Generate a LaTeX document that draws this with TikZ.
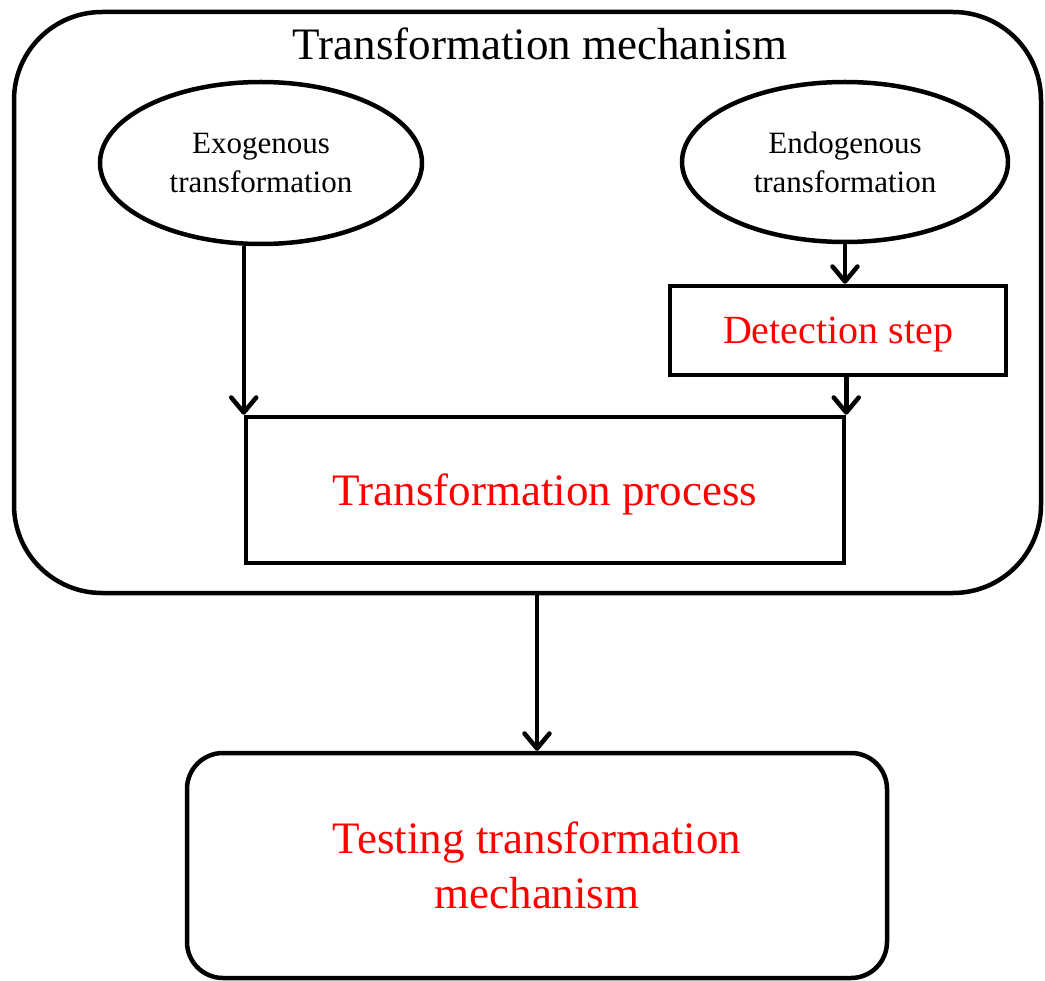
\documentclass[tikz,border=0pt]{standalone}
\usepackage{fontspec}
\setmainfont{Liberation Serif}
\usetikzlibrary{shapes.geometric,arrows.meta}

\begin{document}
\begin{tikzpicture}[x=1pt,y=-1pt,
  every node/.style={inner sep=0pt},
  frame/.style={draw=black,line width=4.5pt},
  oval/.style={frame,ellipse,align=center,font=\fontsize{31}{39}\selectfont},
  stepbox/.style={frame,text=red,text depth=0pt},
  flow/.style={line width=4.5pt,-{Straight Barb[length=15pt,width=25pt,line cap=round,line join=round]}}
]
\useasboundingbox (0,0) rectangle (1045,981);

% outer container and its title
\node[frame,rounded corners=88pt,minimum width=1027pt,minimum height=581pt]
  (mech) at (527.5,302.5) {};
\node[anchor=base,font=\fontsize{45}{54}\selectfont] (title) at (540,60)
  {Transformation mechanism};

% the two sources of transformation
\node[oval,minimum width=322pt,minimum height=162pt] (exo) at (261,163)
  {Exogenous\\transformation};
\node[oval,minimum width=326pt,minimum height=160pt] (endo) at (845,162)
  {Endogenous\\transformation};

% detection and process boxes
\node[stepbox,minimum width=336pt,minimum height=89pt,
  font=\fontsize{40}{48}\selectfont] (det) at (838,330.5) {Detection step};
\node[stepbox,minimum width=598pt,minimum height=146pt,
  font=\fontsize{45}{54}\selectfont] (proc) at (545,490) {Transformation process};

% testing box
\node[frame,rounded corners=36pt,minimum width=700pt,minimum height=225pt,
  align=center,text=red,font=\fontsize{45}{55}\selectfont]
  (test) at (537,865.5) {Testing transformation\\mechanism};

% connectors
\draw[flow] (exo.south -| proc.north west) -- (proc.north west);
\draw[flow] (endo.south) -- (endo.south |- det.north);
\draw[flow] (det.south -| proc.north east) -- (proc.north east);
\draw[flow] (mech.south -| test.north) -- (test.north);
\end{tikzpicture}
\end{document}
